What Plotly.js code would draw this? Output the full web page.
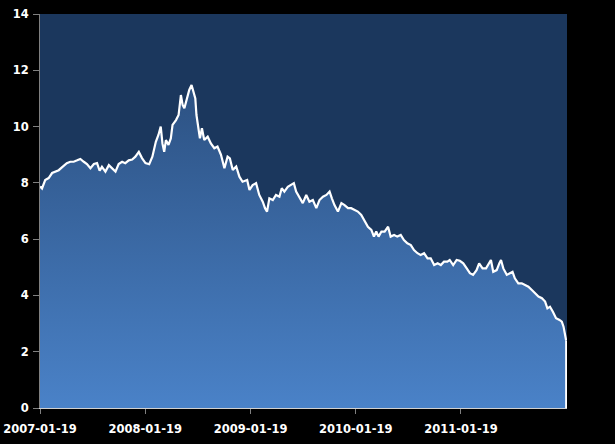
<!DOCTYPE html>
<html>
<head>
<meta charset="utf-8">
<script src="https://cdn.plot.ly/plotly-3.0.1.min.js"></script>
<style>html,body{margin:0;padding:0;background:#000;}#chart{width:615px;height:444px;}</style>
</head>
<body>
<div id="chart"></div>
<script>
const dates = [
"2007-01-19","2007-01-26","2007-02-06","2007-02-18","2007-03-02","2007-03-13","2007-03-25","2007-04-05","2007-04-22","2007-05-04",
"2007-05-16","2007-05-28","2007-06-08","2007-06-20","2007-07-01","2007-07-13","2007-07-25","2007-08-05","2007-08-14","2007-08-22",
"2007-09-03","2007-09-15","2007-09-26","2007-10-08","2007-10-19","2007-10-31","2007-11-11","2007-11-23","2007-12-05","2007-12-16",
"2007-12-28","2008-01-08","2008-01-20","2008-02-02","2008-02-13","2008-02-25","2008-03-05","2008-03-13","2008-03-19","2008-03-25",
"2008-03-31","2008-04-09","2008-04-17","2008-04-23","2008-05-05","2008-05-14","2008-05-22","2008-05-28","2008-06-03","2008-06-11",
"2008-06-20","2008-06-28","2008-07-05","2008-07-11","2008-07-15","2008-07-21","2008-07-27","2008-08-03","2008-08-11","2008-08-23",
"2008-09-03","2008-09-15","2008-09-26","2008-10-08","2008-10-20","2008-10-31","2008-11-08","2008-11-18","2008-11-30","2008-12-11",
"2008-12-22","2009-01-07","2009-01-15","2009-01-26","2009-02-07","2009-02-18","2009-03-02","2009-03-10","2009-03-17","2009-03-25",
"2009-04-06","2009-04-17","2009-04-29","2009-05-07","2009-05-16","2009-05-28","2009-06-09","2009-06-18","2009-06-26","2009-07-08",
"2009-07-19","2009-07-31","2009-08-11","2009-08-23","2009-09-04","2009-09-15","2009-09-27","2009-10-09","2009-10-20","2009-10-28",
"2009-11-06","2009-11-18","2009-11-30","2009-12-11","2009-12-23","2010-01-03","2010-01-15","2010-01-26","2010-02-07","2010-02-19",
"2010-03-02","2010-03-14","2010-03-23","2010-03-31","2010-04-08","2010-04-18","2010-04-29","2010-05-11","2010-05-20","2010-06-01",
"2010-06-12","2010-06-24","2010-07-05","2010-07-17","2010-07-29","2010-08-09","2010-08-21","2010-09-01","2010-09-13","2010-09-25",
"2010-10-06","2010-10-18","2010-10-30","2010-11-10","2010-11-21","2010-12-03","2010-12-11","2010-12-23","2011-01-04","2011-01-15",
"2011-01-27","2011-02-08","2011-02-19","2011-03-02","2011-03-14","2011-03-23","2011-04-04","2011-04-16","2011-04-27","2011-05-03",
"2011-05-11","2011-05-23","2011-06-01","2011-06-07","2011-06-15","2011-06-27","2011-07-08","2011-07-17","2011-07-25","2011-08-06",
"2011-08-18","2011-08-29","2011-09-10","2011-09-22","2011-10-03","2011-10-15","2011-10-27","2011-11-07","2011-11-15","2011-11-24",
"2011-12-04","2011-12-15","2011-12-27","2012-01-04","2012-01-10","2012-01-16","2012-01-19"
];
const values = [
7.87,7.80,8.10,8.17,8.35,8.40,8.45,8.55,8.70,8.75,
8.75,8.80,8.85,8.75,8.67,8.52,8.67,8.70,8.43,8.57,
8.40,8.63,8.52,8.40,8.67,8.75,8.70,8.80,8.83,8.93,
9.10,8.88,8.70,8.66,8.93,9.46,9.70,10.00,9.40,9.10,
9.52,9.35,9.58,10.06,10.23,10.41,11.12,10.77,10.65,11.00,
11.30,11.48,11.24,11.00,10.41,10.00,9.58,9.94,9.52,9.64,
9.40,9.23,9.29,9.00,8.52,8.93,8.87,8.46,8.58,8.22,
8.04,8.10,7.75,7.92,7.99,7.57,7.33,7.10,6.98,7.45,
7.39,7.57,7.51,7.81,7.69,7.86,7.92,7.99,7.69,7.45,
7.28,7.57,7.33,7.39,7.10,7.39,7.51,7.57,7.69,7.45,
7.21,6.98,7.28,7.21,7.10,7.10,7.04,6.98,6.86,6.62,
6.44,6.33,6.09,6.27,6.09,6.27,6.27,6.44,6.09,6.15,
6.09,6.15,5.97,5.85,5.79,5.61,5.50,5.44,5.50,5.32,
5.32,5.08,5.14,5.08,5.20,5.20,5.26,5.08,5.26,5.23,
5.14,4.96,4.79,4.73,4.90,5.14,4.96,4.96,5.14,5.26,
4.84,4.90,5.14,5.26,4.96,4.73,4.79,4.84,4.61,4.43,
4.43,4.37,4.31,4.19,4.08,3.96,3.90,3.78,3.54,3.60,
3.42,3.19,3.13,3.07,2.89,2.48,2.40
];
const xTickVals = ["2007-01-19","2008-01-19","2009-01-19","2010-01-19","2011-01-19"];
const xTickText = ["2007-01-19","2008-01-19","2009-01-19","2010-01-19","2011-01-19"];
const yTickVals = [0,2,4,6,8,10,12,14];

const lastX = dates[dates.length-1];
const lastY = values[values.length-1];
const maxY = Math.max(...values);

const trace = {
  x: dates, y: values, type: 'scatter', mode: 'lines',
  line: {color: '#ffffff', width: 2.2},
  fill: 'tozeroy',
  fillgradient: {type: 'vertical', start: 0, stop: maxY,
    colorscale: [[0, '#4a82c8'], [1, '#2c5182']]},
  hoverinfo: 'skip'
};

const font = {family: 'DejaVu Sans, Verdana, sans-serif', size: 11.5, color: '#ffffff', weight: 'bold'};

const layout = {
  width: 615, height: 444,
  paper_bgcolor: '#000000', plot_bgcolor: '#1b375d',
  margin: {l: 40, r: 48, t: 14, b: 36},
  showlegend: false,
  font: font,
  xaxis: {
    type: 'date', range: ['2007-01-19', '2012-01-22'],
    tickvals: xTickVals, ticktext: xTickText,
    ticks: 'outside', ticklen: 5, tickcolor: '#808080', tickwidth: 1,
    ticklabelstandoff: 5,
    showline: true, linecolor: '#d0d0d0', linewidth: 1,
    showgrid: false, zeroline: false, tickfont: font
  },
  yaxis: {
    range: [0, 14], tickvals: yTickVals,
    ticks: 'outside', ticklen: 6, tickcolor: '#808080', tickwidth: 1,
    ticklabelstandoff: 2,
    showline: true, linecolor: '#808080', linewidth: 1,
    showgrid: false, zeroline: false, tickfont: font
  },
  shapes: [{type: 'line', xref: 'x', yref: 'y', x0: lastX, x1: lastX, y0: 0, y1: lastY,
    line: {color: '#ffffff', width: 2}}]
};

Plotly.newPlot('chart', [trace], layout, {staticPlot: true, displayModeBar: false});
</script>
</body>
</html>
